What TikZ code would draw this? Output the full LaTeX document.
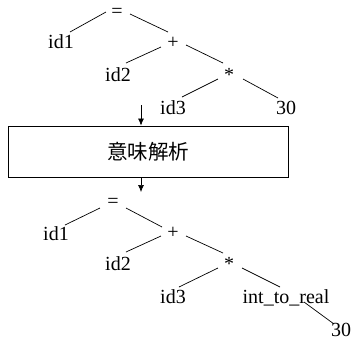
\documentclass[tikz,border=0pt]{standalone}
\usepackage{fontspec}
\setmainfont{Liberation Serif}
\newfontfamily\cjk{Noto Sans CJK JP}
\usetikzlibrary{arrows.meta,calc}
\begin{document}
\begin{tikzpicture}[x=1bp,y=-1bp,
  lbl/.style={anchor=base,inner sep=0pt,font=\fontsize{20bp}{24bp}\selectfont},
  edge/.style={line width=0.7bp},
  flow/.style={line width=0.7bp,-{Latex[length=7bp,width=6bp]}},
  stage/.style={draw,line width=0.8bp,minimum width=280bp,minimum height=51bp,inner sep=0pt,font=\cjk\fontsize{20.5bp}{24bp}\selectfont}]
\useasboundingbox (0,0) rectangle (353,340);
% top tree
\node[lbl] (eqT) at (117,17) {=};
\node[lbl] (id1T) at (61,48) {id1};
\node[lbl] (plT) at (173,48) {+};
\node[lbl] (id2T) at (118,81) {id2};
\node[lbl] (stT) at (229,81) {*};
\node[lbl] (id3T) at (173,114) {id3};
\node[lbl] (n30T) at (286,114) {30};
\draw[edge] ($(eqT.base)+(-11,-5)$) -- ($(id1T.base)+(9,-16)$);
\draw[edge] ($(eqT.base)+(13,-3)$) -- ($(plT.base)+(-5,-16)$);
\draw[edge] ($(plT.base)+(-12,-1)$) -- ($(id2T.base)+(8,-18)$);
\draw[edge] ($(plT.base)+(13,-3)$) -- ($(stT.base)+(-6,-18)$);
\draw[edge] ($(stT.base)+(-11,-2)$) -- ($(id3T.base)+(9,-17)$);
\draw[edge] ($(stT.base)+(14,-2)$) -- ($(n30T.base)+(-8,-16)$);
% stage box
\node[stage] (sem) at (148,151.5) {意味解析};
\coordinate (inTop) at (141,105);
\coordinate (outBot) at (141,192);
\draw[flow] (inTop) -- (inTop |- sem.north);
\draw[flow] (outBot |- sem.south) -- (outBot);
% bottom tree
\node[lbl] (eqB) at (113,207) {=};
\node[lbl] (id1B) at (56,240) {id1};
\node[lbl] (plB) at (173,238) {+};
\node[lbl] (id2B) at (118,270) {id2};
\node[lbl] (stB) at (229,270) {*};
\node[lbl] (id3B) at (173,303) {id3};
\node[lbl] (itrB) at (286,303) {int\_to\_real};
\node[lbl] (n30B) at (341,336) {30};
\draw[edge] ($(eqB.base)+(-13,1)$) -- ($(id1B.base)+(9,-15)$);
\draw[edge] ($(eqB.base)+(13,1)$) -- ($(plB.base)+(-11,-11)$);
\draw[edge] ($(plB.base)+(-12,-2)$) -- ($(id2B.base)+(8,-18)$);
\draw[edge] ($(plB.base)+(13,-2)$) -- ($(stB.base)+(-6,-17)$);
\draw[edge] ($(stB.base)+(-11,-2)$) -- ($(id3B.base)+(6,-16)$);
\draw[edge] ($(stB.base)+(13,-2)$) -- ($(itrB.base)+(-6,-16)$);
\draw[edge] ($(itrB.base)+(18,-1)$) -- ($(n30B.base)+(-7,-12)$);
\end{tikzpicture}
\end{document}
